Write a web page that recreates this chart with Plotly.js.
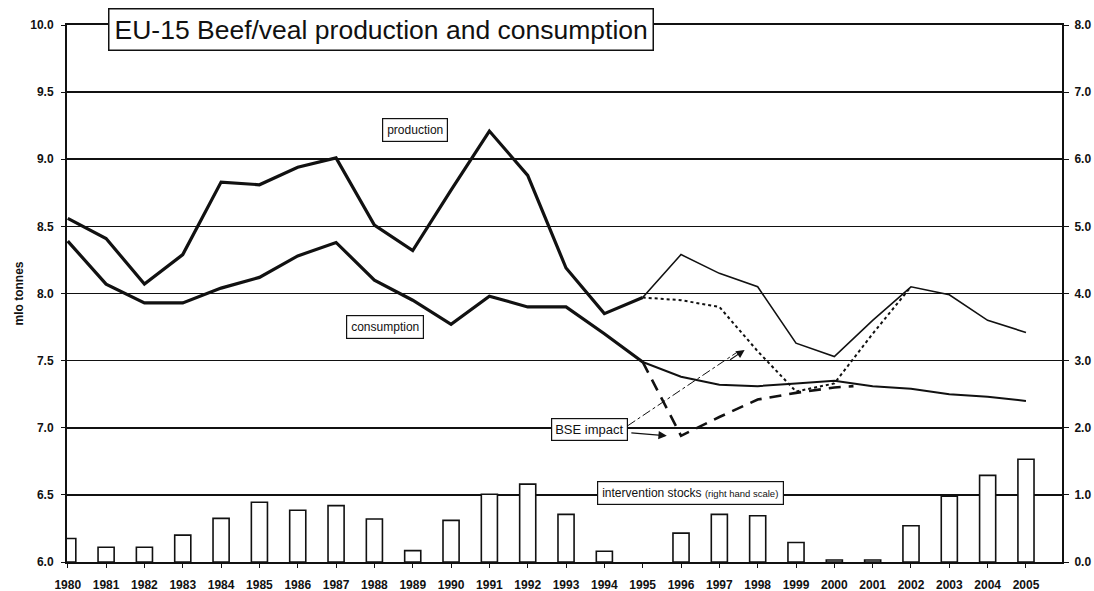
<!DOCTYPE html>
<html>
<head>
<meta charset="utf-8">
<script src="https://cdn.plot.ly/plotly-3.0.1.min.js"></script>
<style>html,body{margin:0;padding:0;background:#fff;}#chart{width:1094px;height:591px;}</style>
</head>
<body>
<div id="chart"></div>
<script>
const years = [1980,1981,1982,1983,1984,1985,1986,1987,1988,1989,1990,1991,1992,1993,1994,1995,1996,1997,1998,1999,2000,2001,2002,2003,2004,2005];
const yearLabels = ["1980","1981","1982","1983","1984","1985","1986","1987","1988","1989","1990","1991","1992","1993","1994","1995","1996","1997","1998","1999","2000","2001","2002","2003","2004","2005"];
const production = [8.56,8.41,8.07,8.29,8.83,8.81,8.94,9.01,8.51,8.32,8.77,9.21,8.88,8.19,7.85,7.97,8.29,8.15,8.05,7.63,7.53,7.80,8.05,7.99,7.80,7.71];
const consumption = [8.39,8.07,7.93,7.93,8.04,8.12,8.28,8.38,8.10,7.95,7.77,7.98,7.90,7.90,7.70,7.49,7.38,7.32,7.31,7.33,7.35,7.31,7.29,7.25,7.23,7.20];
const interventionStocks = [0.35,0.22,0.22,0.40,0.65,0.89,0.77,0.84,0.64,0.17,0.62,1.01,1.16,0.71,0.16,null,0.43,0.71,0.69,0.29,0.03,0.03,0.54,0.98,1.29,1.53];
const noBseYears = [1995,1996,1997,1998,1999,2000,2001,2002];
const productionNoBse = [7.97,7.95,7.90,7.57,7.27,7.33,7.70,8.05];
const bseYears = [1995,1996,1997,1998,1999,2000,2000.5];
const consumptionBse = [7.49,6.94,7.08,7.21,7.26,7.30,7.31];

const INK = '#111';
const split = 16; // 1980..1995 drawn thick

const traces = [
  {type:'bar', x:years, y:interventionStocks, yaxis:'y2', width:0.42,
   marker:{color:'#fff', line:{color:INK, width:1.6}}, hoverinfo:'x+y'},
  {type:'scatter', mode:'lines', x:years.slice(0,split), y:production.slice(0,split),
   line:{color:INK, width:3.2}},
  {type:'scatter', mode:'lines', x:years.slice(split-1), y:production.slice(split-1),
   line:{color:INK, width:1.6}},
  {type:'scatter', mode:'lines', x:years.slice(0,split), y:consumption.slice(0,split),
   line:{color:INK, width:3.2}},
  {type:'scatter', mode:'lines', x:years.slice(split-1), y:consumption.slice(split-1),
   line:{color:INK, width:2}},
  {type:'scatter', mode:'lines', x:noBseYears, y:productionNoBse,
   line:{color:INK, width:2, dash:'dot'}},
  {type:'scatter', mode:'lines', x:bseYears, y:consumptionBse,
   line:{color:INK, width:2.6, dash:'12px,8px'}}
];

const tickFont = {family:'Liberation Sans, Arial, sans-serif', size:12, color:INK, weight:'bold'};
const boxFont = {family:'Liberation Sans, Arial, sans-serif', size:12, color:INK};

const layout = {
  width:1094, height:591,
  margin:{l:67, r:32, t:25, b:29},
  paper_bgcolor:'#fff', plot_bgcolor:'#fff',
  showlegend:false,
  xaxis:{range:[1979.98,2005.94], tickvals:years, ticktext:yearLabels,
         showgrid:false, zeroline:false, showline:true, linecolor:INK, linewidth:2, mirror:true,
         ticks:'outside', ticklen:4, tickwidth:1, tickcolor:INK, ticklabelstandoff:7,
         tickfont:tickFont},
  yaxis:{range:[6,10], tick0:6, dtick:0.5, tickformat:'.1f',
         showgrid:true, gridcolor:INK, gridwidth:1.6, zeroline:false,
         showline:true, linecolor:INK, linewidth:2,
         ticks:'outside', ticklen:4, tickcolor:INK, ticklabelstandoff:5, tickfont:tickFont,
         title:{text:'mlo tonnes', font:{family:'Liberation Sans, Arial, sans-serif', size:12, color:INK, weight:'bold'}, standoff:4}},
  yaxis2:{overlaying:'y', side:'right', range:[0,8], tick0:0, dtick:1, tickformat:'.1f',
          showgrid:false, zeroline:false, showline:true, linecolor:INK, linewidth:2,
          ticks:'outside', ticklen:5, tickcolor:INK, ticklabelstandoff:3, tickfont:tickFont},
  shapes:[
    {type:'line', xref:'x', yref:'y', x0:1994.61, y0:7.015, x1:1997.45, y1:7.56,
     line:{color:INK, width:1, dash:'dashdot'}}
  ],
  annotations:[
    {xref:'paper', yref:'paper', x:0.3156, y:0.9907, xanchor:'center', yanchor:'middle',
     text:'EU-15 Beef/veal production and consumption', showarrow:false,
     font:{family:'Liberation Sans, Arial, sans-serif', size:26.5, color:INK},
     bgcolor:'#fff', bordercolor:INK, borderwidth:1.5, borderpad:5},
    {xref:'paper', yref:'paper', x:0.3497, y:0.8045, xanchor:'center', yanchor:'middle',
     text:'production', showarrow:false, font:boxFont,
     bgcolor:'#fff', bordercolor:INK, borderwidth:1.2, borderpad:4},
    {xref:'paper', yref:'paper', x:0.3196, y:0.4385, xanchor:'center', yanchor:'middle',
     text:'consumption', showarrow:false, font:boxFont,
     bgcolor:'#fff', bordercolor:INK, borderwidth:1.2, borderpad:4},
    {xref:'paper', yref:'paper', x:0.5251, y:0.2467, xanchor:'center', yanchor:'middle',
     text:'BSE impact', showarrow:false, font:{family:'Liberation Sans, Arial, sans-serif', size:13, color:INK},
     bgcolor:'#fff', bordercolor:INK, borderwidth:1.2, borderpad:3},
    {xref:'paper', yref:'paper', x:0.6266, y:0.1276, xanchor:'center', yanchor:'middle',
     text:'intervention stocks <span style="font-size:9.5px">(right hand scale)</span>', showarrow:false, font:boxFont,
     bgcolor:'#fff', bordercolor:INK, borderwidth:1.2, borderpad:4},
    {xref:'x', yref:'y', x:1997.66, y:7.58, text:'', showarrow:true,
     arrowhead:2, arrowsize:1.4, arrowwidth:1.2, arrowcolor:INK, ax:-16, ay:11},
    {xref:'x', yref:'y', x:1995.63, y:6.94, text:'', showarrow:true,
     arrowhead:2, arrowsize:1.4, arrowwidth:1.2, arrowcolor:INK, ax:-37, ay:-3}
  ]
};

Plotly.newPlot('chart', traces, layout, {displayModeBar:false, staticPlot:true});
</script>
</body>
</html>
